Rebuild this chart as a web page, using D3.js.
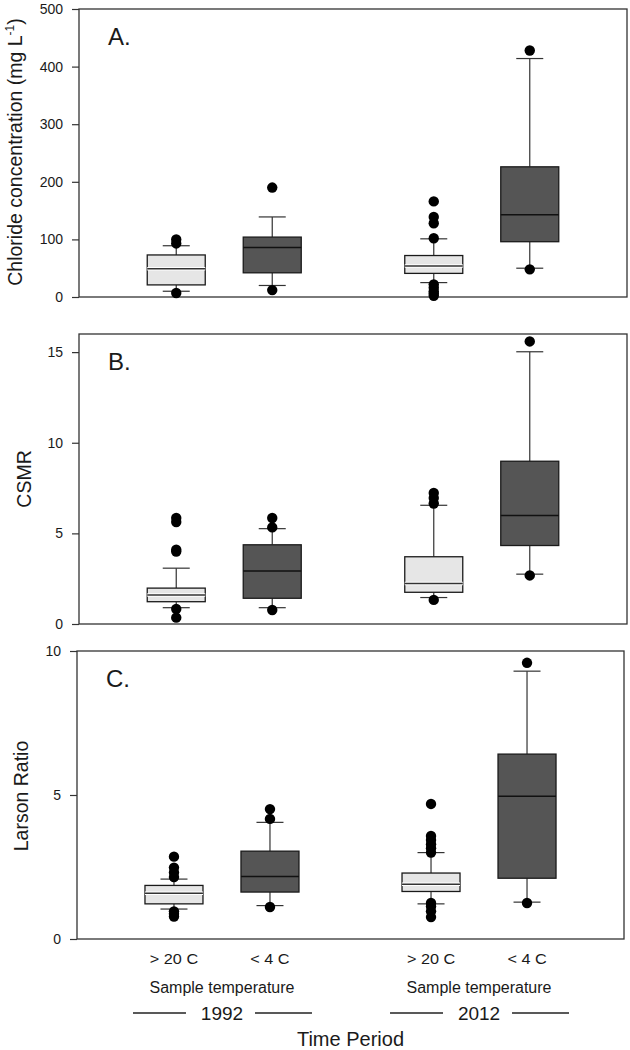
<!DOCTYPE html>
<html><head><meta charset="utf-8">
<script src="https://cdn.jsdelivr.net/npm/d3@7"></script>
<style>
body{margin:0;background:#fff}
text{font-family:"Liberation Sans",Arial,Helvetica,sans-serif;fill:#1a1a1a}
</style>
</head><body>
<svg id="chart" width="630" height="1050"></svg>
<script>
// ---- categories ----
const years = ["1992", "2012"];
const temps = ["> 20 C", "< 4 C"];
const groupFills = ["#e6e6e6", "#555555", "#e6e6e6", "#555555"];

// ---- Panel A: Chloride concentration (mg/L) ----
const chlorideLow    = [10, 20, 25, 50];
const chlorideQ1     = [21, 42, 41, 96];
const chlorideMedian = [49, 86, 54, 143];
const chlorideQ3     = [73, 104, 72, 226];
const chlorideHigh   = [89, 139, 101, 414];
const chlorideOutliers = [
  [7, 93, 100],
  [12, 190],
  [2, 6, 10, 16, 22, 102, 128, 139, 166],
  [48, 428]
];
const chlorideTicks = [0, 100, 200, 300, 400, 500];

// ---- Panel B: CSMR ----
const csmrLow    = [0.9, 0.9, 1.46, 2.75];
const csmrQ1     = [1.23, 1.42, 1.75, 4.33];
const csmrMedian = [1.6, 2.93, 2.23, 5.98];
const csmrQ3     = [1.98, 4.37, 3.71, 8.98];
const csmrHigh   = [3.08, 5.26, 6.55, 15.02];
const csmrOutliers = [
  [0.35, 0.83, 4.0, 4.1, 5.63, 5.85],
  [0.77, 5.33, 5.85],
  [1.33, 6.65, 6.95, 7.23],
  [2.68, 15.59]
];
const csmrTicks = [0, 5, 10, 15];

// ---- Panel C: Larson Ratio ----
const larsonLow    = [1.04, 1.16, 1.22, 1.28];
const larsonQ1     = [1.22, 1.63, 1.65, 2.11];
const larsonMedian = [1.59, 2.17, 1.9, 4.96];
const larsonQ3     = [1.86, 3.05, 2.29, 6.42];
const larsonHigh   = [2.08, 4.05, 3.0, 9.3];
const larsonOutliers = [
  [0.78, 0.88, 0.96, 2.15, 2.31, 2.48, 2.86],
  [1.11, 4.17, 4.51],
  [0.76, 0.96, 1.13, 1.25, 3.0, 3.15, 3.29, 3.44, 3.58, 4.69],
  [1.25, 9.59]
];
const larsonTicks = [0, 5, 10];

const svg = d3.select("#chart");

const panels = [
  {letter: "A.", top: 9, bottom: 297, left: 79, right: 627, domain: [0, 500], ticks: chlorideTicks,
   low: chlorideLow, q1: chlorideQ1, med: chlorideMedian, q3: chlorideQ3, high: chlorideHigh, out: chlorideOutliers,
   title: "chloride", titleX: 22, titleY: 152},
  {letter: "B.", top: 334, bottom: 624, left: 79, right: 627, domain: [0, 16], ticks: csmrTicks,
   low: csmrLow, q1: csmrQ1, med: csmrMedian, q3: csmrQ3, high: csmrHigh, out: csmrOutliers,
   title: "CSMR", titleX: 31, titleY: 479},
  {letter: "C.", top: 651, bottom: 939, left: 77, right: 624, domain: [0, 10], ticks: larsonTicks,
   low: larsonLow, q1: larsonQ1, med: larsonMedian, q3: larsonQ3, high: larsonHigh, out: larsonOutliers,
   title: "Larson Ratio", titleX: 28, titleY: 796}
];

const boxW = 58, capW = 27, dotR = 5.2;
let lastX = null;

panels.forEach(p => {
  const g = svg.append("g");
  const y = d3.scaleLinear().domain(p.domain).range([p.bottom, p.top]);
  const xYear = d3.scalePoint().domain(years).range([p.left, p.right]).padding(0.564);
  const xTemp = d3.scalePoint().domain(temps).range([-48, 48]);
  const groups = [];
  years.forEach(yr => temps.forEach(t => groups.push({yr, t})));
  const cx = i => xYear(groups[i].yr) + xTemp(groups[i].t);
  lastX = {xYear, xTemp, left: p.left, right: p.right};

  // frame
  g.append("rect").attr("x", p.left).attr("y", p.top)
    .attr("width", p.right - p.left).attr("height", p.bottom - p.top)
    .attr("fill", "none").attr("stroke", "#333").attr("stroke-width", 1.3);

  // y axis
  const ax = g.append("g").attr("transform", `translate(${p.left},0)`)
    .call(d3.axisLeft(y).tickValues(p.ticks).tickSize(7).tickPadding(9).tickFormat(d3.format("d")));
  ax.select(".domain").remove();
  ax.selectAll(".tick line").attr("stroke", "#333").attr("stroke-width", 1.2);
  ax.selectAll(".tick text").attr("font-size", 14).attr("fill", "#1a1a1a")
    .style("font-family", '"Liberation Sans", Arial, sans-serif');

  groups.forEach((gr, i) => {
    const x = cx(i);
    const light = i % 2 === 0;
    // whiskers
    g.append("line").attr("x1", x).attr("x2", x).attr("y1", y(p.q3[i])).attr("y2", y(p.high[i]))
      .attr("stroke", "#333").attr("stroke-width", 1.2);
    g.append("line").attr("x1", x).attr("x2", x).attr("y1", y(p.q1[i])).attr("y2", y(p.low[i]))
      .attr("stroke", "#333").attr("stroke-width", 1.2);
    g.append("line").attr("x1", x - capW / 2).attr("x2", x + capW / 2).attr("y1", y(p.high[i])).attr("y2", y(p.high[i]))
      .attr("stroke", "#333").attr("stroke-width", 1.2);
    g.append("line").attr("x1", x - capW / 2).attr("x2", x + capW / 2).attr("y1", y(p.low[i])).attr("y2", y(p.low[i]))
      .attr("stroke", "#333").attr("stroke-width", 1.2);
    // box
    g.append("rect").attr("x", x - boxW / 2).attr("y", y(p.q3[i]))
      .attr("width", boxW).attr("height", y(p.q1[i]) - y(p.q3[i]))
      .attr("fill", groupFills[i]).attr("stroke", "#1a1a1a").attr("stroke-width", 1.3);
    // median
    if (light) {
      g.append("line").attr("x1", x - boxW / 2).attr("x2", x + boxW / 2).attr("y1", y(p.med[i])).attr("y2", y(p.med[i]))
        .attr("stroke", "#ffffff").attr("stroke-width", 3.5);
    }
    g.append("line").attr("x1", x - boxW / 2).attr("x2", x + boxW / 2).attr("y1", y(p.med[i])).attr("y2", y(p.med[i]))
      .attr("stroke", light ? "#333" : "#111").attr("stroke-width", 1.5);
    // outliers
    g.selectAll(null).data(p.out[i]).enter().append("circle")
      .attr("cx", x).attr("cy", d => y(d)).attr("r", dotR).attr("fill", "#000");
  });

  // panel letter
  g.append("text").attr("x", p.left + 29).attr("y", p.top + 36)
    .attr("font-size", 24).text(p.letter);

  // y title
  const t = g.append("text").attr("transform", `translate(${p.titleX},${p.titleY}) rotate(-90)`)
    .attr("text-anchor", "middle").attr("font-size", 19.5);
  if (p.title === "chloride") {
    t.append("tspan").text("Chloride concentration (mg L");
    t.append("tspan").attr("font-size", 12).attr("dy", -8).text("-1");
    t.append("tspan").attr("dy", 8).text(")");
  } else {
    t.text(p.title);
  }
});

// ---- bottom category labels ----
const {xYear, xTemp, left, right} = lastX;
const b = svg.append("g");
years.forEach(yr => {
  temps.forEach(t => {
    b.append("text").attr("transform", `translate(${xYear(yr) + xTemp(t)},964) scale(1.12,1)`)
      .attr("text-anchor", "middle").attr("font-size", 14.5).text(t);
  });
  b.append("text").attr("x", xYear(yr)).attr("y", 993)
    .attr("text-anchor", "middle").attr("font-size", 16).text("Sample temperature");
  b.append("text").attr("x", xYear(yr)).attr("y", 1020)
    .attr("text-anchor", "middle").attr("font-size", 19).text(yr);
  [[-89, -36], [33, 90]].forEach(([a, c]) => {
    b.append("line").attr("x1", xYear(yr) + a).attr("x2", xYear(yr) + c)
      .attr("y1", 1013).attr("y2", 1013).attr("stroke", "#222").attr("stroke-width", 1.3);
  });
});
b.append("text").attr("x", (left + right) / 2).attr("y", 1046)
  .attr("text-anchor", "middle").attr("font-size", 20).text("Time Period");
</script>
</body></html>
